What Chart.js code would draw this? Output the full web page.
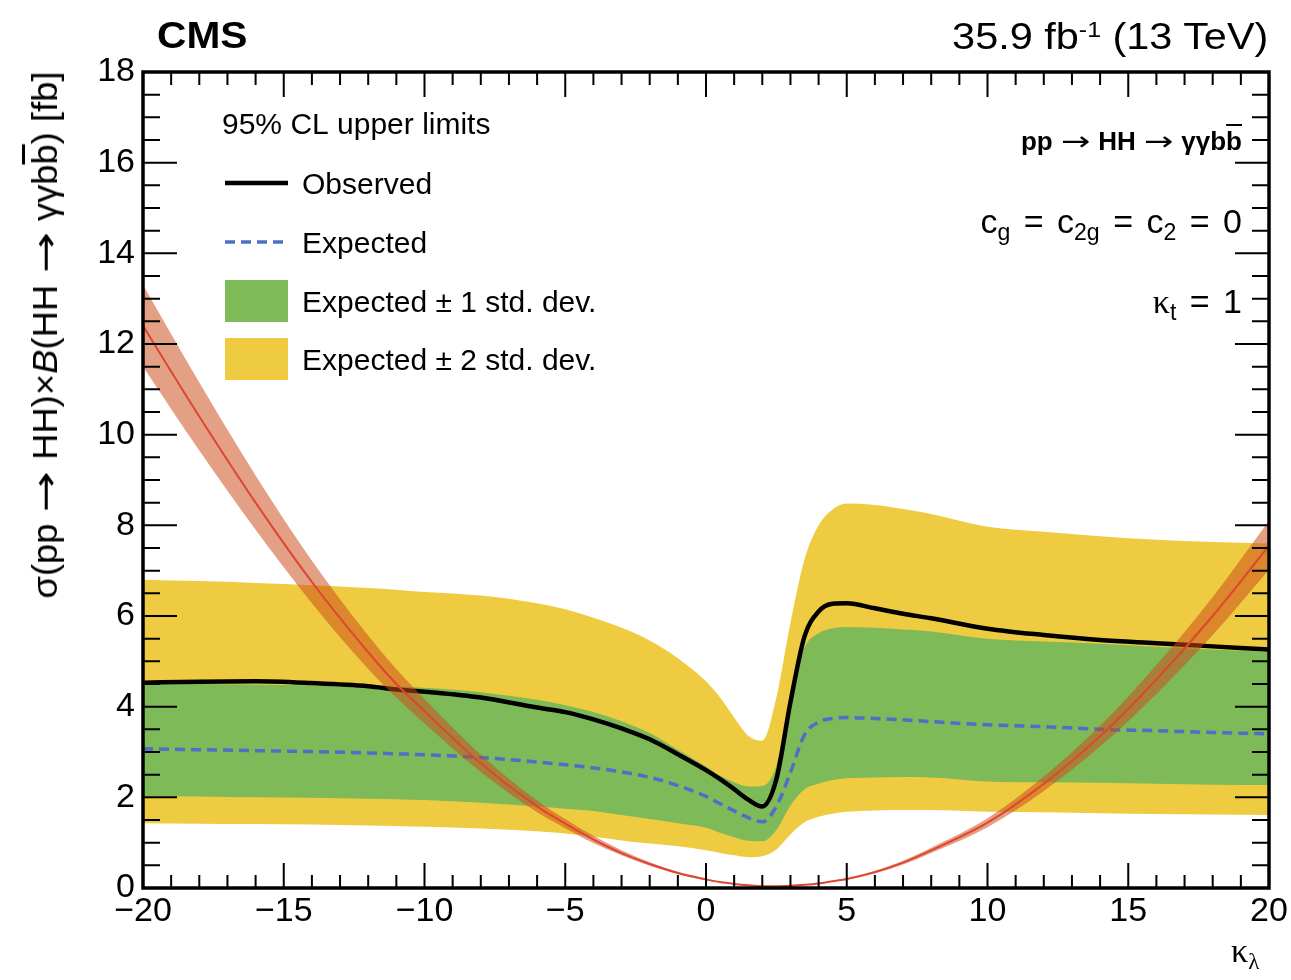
<!DOCTYPE html>
<html><head><meta charset="utf-8">
<script src="https://cdn.jsdelivr.net/npm/chart.js@4.4.0/dist/chart.umd.min.js"></script>
<style>
html,body{margin:0;padding:0;background:#fff;}
#wrap{position:relative;width:1291px;height:980px;overflow:hidden;font-family:"Liberation Sans",Arial,sans-serif;color:#000;}
canvas{position:absolute;left:0;top:0;}
.t{position:absolute;white-space:nowrap;line-height:1;}
.t sub{font-size:0.68em;vertical-align:-0.32em;line-height:0;}
.t sup{font-size:0.6em;vertical-align:0.55em;line-height:0;}
.gk{font-family:"Liberation Serif","DejaVu Serif",serif;}
.ob{text-decoration:overline;text-decoration-thickness:3px;}
.arr{display:inline-block;width:1.75em;text-align:center;font-family:"DejaVu Sans",sans-serif;font-weight:normal;}
.arr>span{display:inline-block;transform:scaleX(1.35);}
</style></head><body>
<div id="wrap">
<canvas id="c" width="1291" height="980"></canvas>
<div class="t" style="left:157px;top:17px;font-size:37px;font-weight:bold;transform:scaleX(1.1);transform-origin:left center;">CMS</div>
<div class="t" style="right:23px;top:18px;font-size:37px;transform:scaleX(1.12);transform-origin:right center;">35.9 fb<sup>-1</sup> (13 TeV)</div>
<div class="t" style="right:49px;top:128px;font-size:26px;font-weight:bold;">pp<span class="arr"><span>→</span></span>HH<span class="arr"><span>→</span></span>γγb<span class="ob" style="text-decoration-thickness:2px">b</span></div>
<div class="t" style="right:49px;top:204px;font-size:34px;word-spacing:4px;">c<sub>g</sub> = c<sub>2g</sub> = c<sub>2</sub> = 0</div>
<div class="t" style="right:49px;top:284px;font-size:34px;word-spacing:4px;"><span class="gk">κ</span><sub>t</sub> = 1</div>
<div class="t" style="left:1231px;top:933px;font-size:34px;"><span class="gk">κ</span><sub class="gk">λ</sub></div>
<div class="t" style="left:45px;top:335px;font-size:35px;transform:translate(-50%,-50%) rotate(-90deg) scaleX(1.04);">σ(pp<span class="arr"><span>→</span></span>HH)×<i>B</i>(HH<span class="arr"><span>→</span></span>γγb<span class="ob">b</span>) [fb]</div>
</div>
<script>
// ---- data ----
const kappa = [-20,-18,-16,-14,-12,-11,-10,-8,-6,-5,-4,-3,-2,-1,0,0.5,1,1.5,2,2.5,3,3.5,4,4.5,5,6,7,8,10,12,14,16,18,20];
const expPlus2  = [6.80,6.77,6.73,6.68,6.62,6.58,6.53,6.45,6.28,6.15,5.96,5.74,5.46,5.07,4.56,4.20,3.76,3.36,3.25,4.20,5.85,7.25,8.00,8.35,8.48,8.45,8.36,8.25,7.97,7.86,7.76,7.68,7.63,7.60];
const expPlus1  = [4.50,4.50,4.49,4.47,4.45,4.44,4.42,4.32,4.15,4.03,3.88,3.68,3.42,3.05,2.68,2.48,2.33,2.24,2.25,2.70,4.20,5.30,5.62,5.73,5.76,5.74,5.70,5.66,5.50,5.44,5.39,5.32,5.26,5.21];
const expMinus1 = [2.03,2.02,2.00,1.99,1.97,1.96,1.94,1.88,1.80,1.75,1.70,1.61,1.52,1.43,1.33,1.22,1.12,1.04,1.03,1.28,1.82,2.18,2.30,2.38,2.42,2.44,2.45,2.44,2.35,2.33,2.32,2.30,2.28,2.27];
const expMinus2 = [1.43,1.42,1.41,1.40,1.38,1.37,1.35,1.31,1.25,1.20,1.13,1.05,0.98,0.92,0.83,0.77,0.72,0.68,0.70,0.85,1.18,1.45,1.57,1.64,1.68,1.71,1.72,1.72,1.68,1.67,1.65,1.63,1.62,1.61];
const expected  = [3.07,3.05,3.03,3.01,2.98,2.96,2.94,2.88,2.78,2.72,2.65,2.56,2.44,2.26,2.02,1.86,1.70,1.55,1.46,1.80,2.55,3.38,3.66,3.74,3.76,3.74,3.71,3.67,3.60,3.56,3.50,3.47,3.43,3.40];
const observed  = [4.53,4.55,4.56,4.52,4.45,4.38,4.33,4.20,3.98,3.88,3.72,3.52,3.28,2.95,2.60,2.40,2.18,1.95,1.80,2.40,4.10,5.55,6.10,6.27,6.28,6.17,6.05,5.95,5.72,5.58,5.47,5.40,5.33,5.26];
const theory     = [12.4,10.4,8.5,6.75,5.2,4.5,3.9,2.75,1.8,1.42,1.07,0.77,0.53,0.33,0.19,0.13,0.09,0.06,0.04,0.04,0.05,0.07,0.10,0.15,0.20,0.35,0.56,0.83,1.44,2.30,3.35,4.60,6.00,7.55];
const theoryUp   = [13.3,11.15,9.1,7.22,5.57,4.83,4.17,2.94,1.93,1.52,1.15,0.83,0.57,0.36,0.21,0.14,0.10,0.07,0.05,0.05,0.06,0.08,0.11,0.16,0.22,0.38,0.60,0.89,1.54,2.46,3.58,4.92,6.42,8.10];
const theoryDown = [11.5,9.65,7.9,6.28,4.83,4.2,3.63,2.56,1.67,1.32,0.99,0.72,0.49,0.31,0.17,0.12,0.08,0.05,0.03,0.03,0.04,0.06,0.09,0.14,0.18,0.32,0.52,0.77,1.34,2.14,3.12,4.28,5.58,7.02];
const xTickLabels = [-20,-15,-10,-5,0,5,10,15,20];
const yTickLabels = [0,2,4,6,8,10,12,14,16,18];
const legendHeader = "95% CL upper limits";
const legendLabels = ["Observed","Expected","Expected \u00b1 1 std. dev.","Expected \u00b1 2 std. dev."];

const YELLOW = 'rgb(239,203,65)';
const GREEN = 'rgb(126,186,88)';
const BLUE = 'rgb(80,110,200)';
const pts = arr => kappa.map((k,i)=>({x:k,y:arr[i]}));
const base = {pointRadius:0, cubicInterpolationMode:'monotone', borderWidth:0};

Chart.defaults.font.family = '"Liberation Sans", Arial, sans-serif';
Chart.defaults.color = '#000';

const framePlugin = {
  id:'frame',
  afterDraw(chart){
    const {ctx, chartArea:a, scales:{x,y}} = chart;
    ctx.save();
    ctx.strokeStyle = '#000';
    ctx.lineWidth = 2;
    ctx.beginPath();
    for (let v=-20; v<=20.001; v+=1){
      const px = x.getPixelForValue(v);
      const L = (Math.round(v)%5===0) ? 25 : 13;
      ctx.moveTo(px,a.bottom); ctx.lineTo(px,a.bottom-L);
      ctx.moveTo(px,a.top); ctx.lineTo(px,a.top+L);
    }
    for (let v=0; v<=18.001; v+=0.5){
      const py = y.getPixelForValue(v);
      const L = (Math.abs(v/2-Math.round(v/2))<1e-6) ? 34 : 17;
      ctx.moveTo(a.left,py); ctx.lineTo(a.left+L,py);
      ctx.moveTo(a.right,py); ctx.lineTo(a.right-L,py);
    }
    ctx.stroke();
    ctx.lineWidth = 3.5;
    ctx.strokeRect(a.left, a.top, a.right-a.left, a.bottom-a.top);
    ctx.restore();
  }
};

const legendPlugin = {
  id:'cmsLegend',
  afterDraw(chart){
    const ctx = chart.ctx;
    const ds = chart.data.datasets;
    ctx.save();
    ctx.font = '30px "Liberation Sans", Arial, sans-serif';
    ctx.fillStyle = '#000';
    ctx.textBaseline = 'alphabetic';
    ctx.fillText(legendHeader, 222, 134);
    const x0 = 225, x1 = 288, tx = 302;
    let yc = 183;
    ctx.strokeStyle = ds[5].borderColor; ctx.lineWidth = ds[5].borderWidth;
    ctx.beginPath(); ctx.moveTo(x0,yc); ctx.lineTo(x1,yc); ctx.stroke();
    ctx.fillText(legendLabels[0], tx, yc+11);
    yc = 242;
    ctx.strokeStyle = ds[4].borderColor; ctx.lineWidth = ds[4].borderWidth;
    ctx.setLineDash(ds[4].borderDash);
    ctx.beginPath(); ctx.moveTo(x0,yc); ctx.lineTo(x1,yc); ctx.stroke();
    ctx.setLineDash([]);
    ctx.fillText(legendLabels[1], tx, yc+11);
    yc = 301;
    ctx.fillStyle = ds[2].backgroundColor; ctx.fillRect(x0, yc-21, x1-x0, 42);
    ctx.fillStyle = '#000'; ctx.fillText(legendLabels[2], tx, yc+11);
    yc = 359;
    ctx.fillStyle = ds[0].backgroundColor; ctx.fillRect(x0, yc-21, x1-x0, 42);
    ctx.fillStyle = '#000'; ctx.fillText(legendLabels[3], tx, yc+11);
    ctx.restore();
  }
};

new Chart(document.getElementById('c'), {
  type:'line',
  data:{datasets:[
    {...base, label:'+2', data:pts(expPlus2), backgroundColor:YELLOW, borderColor:YELLOW, fill:1, order:10},
    {...base, label:'-2', data:pts(expMinus2), borderColor:YELLOW, fill:false, order:10},
    {...base, label:'+1', data:pts(expPlus1), backgroundColor:GREEN, borderColor:GREEN, fill:3, order:9},
    {...base, label:'-1', data:pts(expMinus1), borderColor:GREEN, fill:false, order:9},
    {...base, label:'Expected', data:pts(expected), borderColor:BLUE, borderWidth:3.5, borderDash:[10,6], fill:false, order:6},
    {...base, label:'Observed', data:pts(observed), borderColor:'#000', borderWidth:4.5, fill:false, order:5},
    {...base, label:'th+', data:pts(theoryUp), backgroundColor:'rgba(204,75,25,0.53)', borderColor:'rgba(0,0,0,0)', fill:7, order:3},
    {...base, label:'th-', data:pts(theoryDown), borderColor:'rgba(0,0,0,0)', fill:false, order:3},
    {...base, label:'theory', data:pts(theory), borderColor:'rgb(222,70,50)', borderWidth:2, fill:false, order:1}
  ]},
  options:{
    responsive:false, animation:false, devicePixelRatio:1,
    layout:{padding:{left:0,right:22,top:72,bottom:0}},
    plugins:{legend:{display:false}, tooltip:{enabled:false}},
    scales:{
      x:{type:'linear', min:-20, max:20,
        grid:{display:false, drawTicks:false}, border:{display:false},
        afterBuildTicks(s){ s.ticks = xTickLabels.map(v=>({value:v})); },
        afterFit(s){ s.height = 92; },
        ticks:{padding:3, font:{size:34}, maxRotation:0, autoSkip:false,
          callback:v=>String(v).replace('-','\u2212')}},
      y:{type:'linear', min:0, max:18,
        grid:{display:false, drawTicks:false}, border:{display:false},
        afterBuildTicks(s){ s.ticks = yTickLabels.map(v=>({value:v})); },
        afterFit(s){ s.width = 143; },
        ticks:{padding:8, font:{size:34}, autoSkip:false, callback:v=>String(v)}}
    }
  },
  plugins:[framePlugin, legendPlugin]
});
</script>
</body></html>
